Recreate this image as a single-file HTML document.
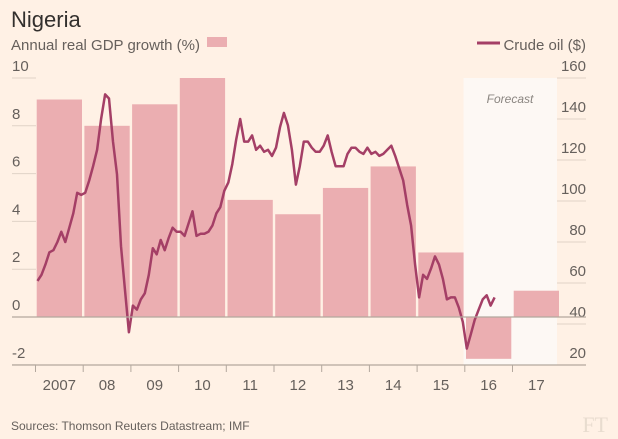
<!DOCTYPE html>
<html><head><meta charset="utf-8"><style>
body{margin:0;background:#fff1e5;font-family:"Liberation Sans",sans-serif;}
svg{display:block}
</style></head><body>
<svg id="c" width="618" height="439">
<rect width="618" height="439" fill="#fff1e5"/>
<text x="11" y="27" font-size="22" fill="#33302e">Nigeria</text>
<text x="11" y="50" font-size="15" fill="#66605c">Annual real GDP growth (%)</text>
<rect x="207" y="37" width="20" height="10" fill="#ebaeb1"/>
<line x1="477" y1="43" x2="500" y2="43" stroke="#a43f66" stroke-width="3"/>
<text x="586" y="50" font-size="15" fill="#66605c" text-anchor="end">Crude oil ($)</text>
<rect x="463.5" y="78" width="93.5" height="287" fill="#fdf8f4"/>
<text x="510" y="103" font-size="12" font-style="italic" fill="#8a8580" text-anchor="middle">Forecast</text>
<g id="grid"></g><g id="bars"></g><g id="oil"></g><g id="axes"></g>
<text x="11" y="430" font-size="12" fill="#66605c">Sources: Thomson Reuters Datastream; IMF</text>
<text x="608" y="432" font-size="22" font-family="Liberation Serif,serif" fill="#e8dccf" text-anchor="end">FT</text>
</svg>
<script>
const years=["2007","08","09","10","11","12","13","14","15","16","17"];
const gdp=[9.1,8.0,8.9,10.0,4.9,4.3,5.4,6.3,2.7,-1.75,1.1];
const leftTicks=[10,8,6,4,2,0,-2];
const rightTicks=[160,140,120,100,80,60,40,20];
const oil=[61,64,69,75,76,80,85,80,87,94,104,103,
104,110,117,125,140,152,150,129,113,78,57,36,
49,47,52,55,64,77,74,81,76,82,87,85,
85,83,89,95,83,84,84,85,88,94,97,105,
109,118,130,140,129,129,132,125,127,124,125,122,
126,136,143,137,125,108,117,129,129,126,124,124,
127,132,124,117,117,117,123,126,126,124,123,126,
123,124,122,123,125,127,122,116,110,98,88,69,
53,64,62,67,73,69,62,52,53,53,48,41,
28,35,42,47,52,54,49,53];
const NS="http://www.w3.org/2000/svg";
const x0=35.5,yw=47.7;
const xs=t=>x0+t*yw;
const yL=v=>317-v*23.9;
const yR=v=>365-(v-20)*2.05;
function mk(tag,a,p){const e=document.createElementNS(NS,tag);for(const k in a)e.setAttribute(k,a[k]);document.getElementById(p).appendChild(e);return e;}
leftTicks.forEach(v=>{
 const g=mk('line',{x1:12,x2:36,y1:yL(v),y2:yL(v),stroke:'#e0d3c7','stroke-width':1},'grid');
 
 
 const t=mk('text',{x:12,y:yL(v)-7,'font-size':15,fill:'#66605c'},'axes');
 t.textContent=String(v);
 
 
});
rightTicks.forEach(v=>{
 const g=mk('line',{x1:557,x2:586,y1:yR(v),y2:yR(v),stroke:'#e0d3c7','stroke-width':1},'grid');
 
 
 const t=mk('text',{x:586,y:yR(v)-7,'font-size':15,fill:'#66605c','text-anchor':'end'},'axes');
 t.textContent=v;
 
 
});
gdp.forEach((v,i)=>{
 const y1=yL(Math.max(v,0)),y2=yL(Math.min(v,0));
 const r=mk('rect',{x:xs(i)+1.2,y:y1,width:yw-2.4,height:y2-y1,fill:'#ebaeb1'},'bars');
 
 
});
const z=mk('line',{x1:12,x2:586,y1:yL(0),y2:yL(0),stroke:'#b3a89e','stroke-width':1.2},'axes');


const ax=mk('line',{x1:12,x2:586,y1:365,y2:365,stroke:'#b3a89e','stroke-width':1.2},'axes');


years.forEach((yname,i)=>{
 const tk=mk('line',{x1:xs(i),x2:xs(i),y1:365,y2:372,stroke:'#b3a89e'},'axes');
 
 
 const t=mk('text',{x:xs(i)+yw/2,y:390,'font-size':15,fill:'#66605c','text-anchor':'middle'},'axes');
 t.textContent=yname;
 
 
});
const pts=oil.map((v,i)=>xs(i/12+1/24).toFixed(1)+','+yR(v).toFixed(1)).join(' ');
const pl=mk('polyline',{points:pts,fill:'none',stroke:'#a43f66','stroke-width':2.5,'stroke-linejoin':'round'},'oil');


</script>
</body></html>
